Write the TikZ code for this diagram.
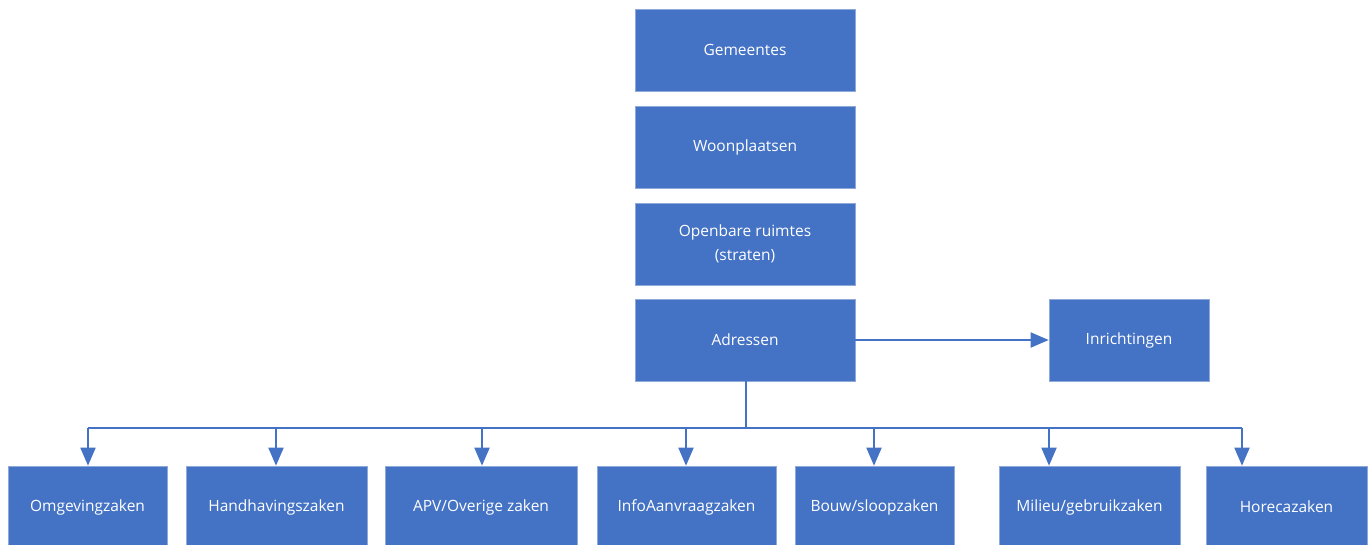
\documentclass[tikz,border=0pt]{standalone}
\usepackage{fontspec}
\setmainfont{Open Sans}
\usetikzlibrary{arrows.meta}
\definecolor{boxblue}{HTML}{4472C4}
\definecolor{boxedge}{HTML}{8FA9DA}
\tikzset{
  box/.style={rectangle, fill=boxblue, draw=boxedge, line width=0.6pt, text=white,
    font=\fontsize{15.5}{23.5}\selectfont, align=center, inner sep=0pt},
  conn/.style={draw=boxblue, line width=1.8pt},
  arr/.style={conn, -{Triangle[width=15pt,length=18pt]}}
}
\begin{document}
\begin{tikzpicture}[x=1pt,y=-1pt]
\useasboundingbox (0,0) rectangle (1370,544);
\clip (0,0) rectangle (1370,544);
\node[box, minimum width=220pt, minimum height=82pt] (gem) at (745,50) {Gemeentes};
\node[box, minimum width=220pt, minimum height=82pt] (woon) at (745,147) {Woonplaatsen};
\node[box, minimum width=220pt, minimum height=82pt] (open) at (745,244) {Openbare ruimtes\\(straten)};
\node[box, minimum width=220pt, minimum height=82pt] (adr) at (745,340) {Adressen};
\node[box, minimum width=160pt, minimum height=82pt] (inr) at (1129,340) {Inrichtingen};
\node[box, minimum width=159pt, minimum height=82pt] (omg) at (87.5,507) {Omgevingzaken};
\node[box, minimum width=181pt, minimum height=82pt] (hand) at (276.5,507) {Handhavingszaken};
\node[box, minimum width=192pt, minimum height=82pt] (apv) at (481,507) {APV/Overige zaken};
\node[box, minimum width=179pt, minimum height=82pt] (info) at (686.5,507) {InfoAanvraagzaken};
\node[box, minimum width=159pt, minimum height=82pt] (bouw) at (874.5,507) {Bouw/sloopzaken};
\node[box, minimum width=181pt, minimum height=82pt] (mil) at (1089.5,507) {Milieu/gebruikzaken};
\node[box, minimum width=161pt, minimum height=82pt] (hor) at (1286.5,507) {Horecazaken};
\coordinate (bus) at (746,428);
\coordinate (b1) at (88,428);
\coordinate (b2) at (276,428);
\coordinate (b3) at (482,428);
\coordinate (b4) at (686,428);
\coordinate (b5) at (874,428);
\coordinate (b6) at (1049,428);
\coordinate (b7) at (1242,428);
\draw[arr] (adr.east) -- (inr.west);
\draw[conn] (adr.south -| bus) -- (bus);
\draw[conn] (b1) -- (b7);
\draw[arr] (b1) -- (omg.north -| b1);
\draw[arr] (b2) -- (hand.north -| b2);
\draw[arr] (b3) -- (apv.north -| b3);
\draw[arr] (b4) -- (info.north -| b4);
\draw[arr] (b5) -- (bouw.north -| b5);
\draw[arr] (b6) -- (mil.north -| b6);
\draw[arr] (b7) -- (hor.north -| b7);
\end{tikzpicture}
\end{document}
